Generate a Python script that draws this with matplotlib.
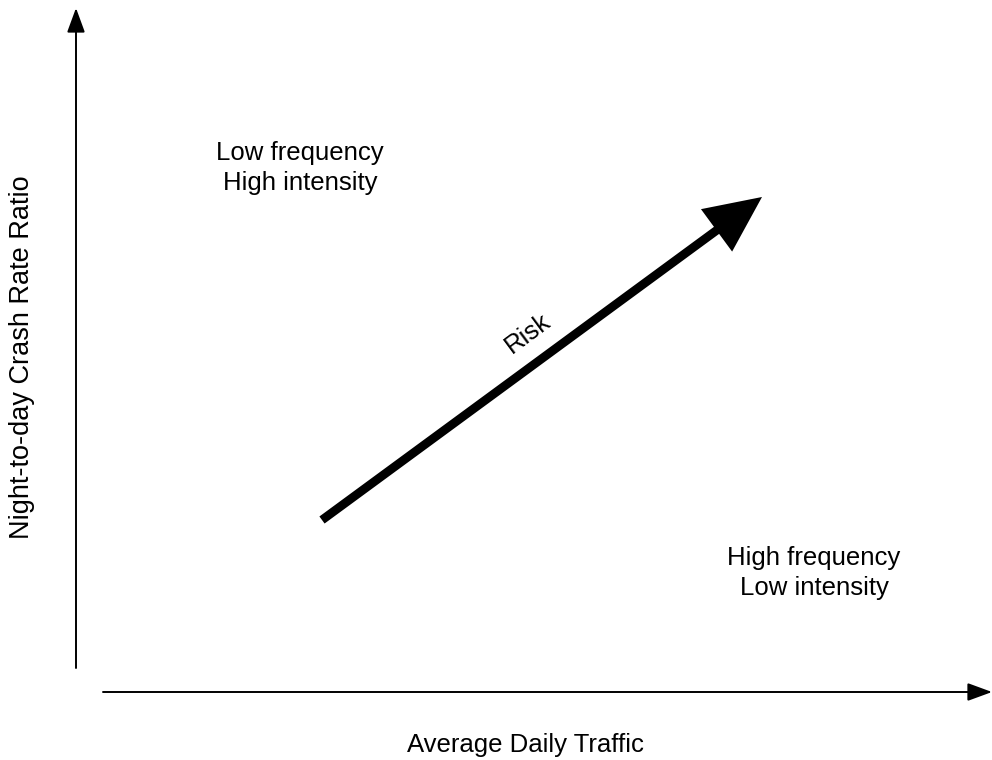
import matplotlib
matplotlib.use("Agg")
import matplotlib.pyplot as plt
from matplotlib.patches import FancyArrowPatch

plt.rcParams['font.family'] = ['Liberation Sans', 'DejaVu Sans']

# diagram content (pixel coordinates of the 992x760 canvas)
y_axis = [(76, 668), (76, 8)]
x_axis = [(103, 692), (992, 692)]
risk_arrow = [(322, 520), (762, 197)]
labels = ["Low frequency\nHigh intensity", "High frequency\nLow intensity", "Risk"]
label_pos = [(300, 168), (814, 573), (528, 333)]
x_title = "Average Daily Traffic"
y_title = "Night-to-day Crash Rate Ratio"

fig = plt.figure(figsize=(9.92, 7.6), dpi=100)
ax = fig.add_axes([0, 0, 1, 1])
ax.set_xlim(0, 992)
ax.set_ylim(760, 0)
ax.axis('off')

for (p0, p1) in [y_axis, x_axis]:
    ax.add_patch(FancyArrowPatch(p0, p1, arrowstyle='-|>,head_length=1.5,head_width=0.55',
                                 mutation_scale=10, lw=1.4, color='black',
                                 shrinkA=0, shrinkB=0))

ax.add_patch(FancyArrowPatch(risk_arrow[0], risk_arrow[1],
                             arrowstyle='-|>,head_length=3.0,head_width=1.4',
                             mutation_scale=10, lw=6.3, color='black',
                             shrinkA=0, shrinkB=0, capstyle='butt', joinstyle='miter'))

ax.text(*label_pos[0], labels[0], ha='center', va='center', fontsize=18.5, linespacing=1.33)
ax.text(*label_pos[1], labels[1], ha='center', va='center', fontsize=18.5, linespacing=1.33)
ax.text(*label_pos[2], labels[2], ha='center', va='center', fontsize=18.5,
        rotation=36.5, rotation_mode='anchor')

ax.text(525, 745, x_title, ha='center', va='center', fontsize=18.5)
ax.text(22, 357, y_title, ha='center', va='center', fontsize=19.5, rotation=90)

fig.savefig("out.png", dpi=100)
